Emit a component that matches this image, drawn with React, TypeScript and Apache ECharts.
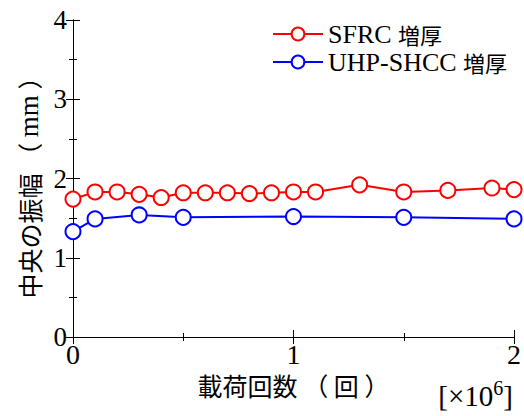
import React, { useEffect, useRef } from "react";
import * as echarts from "echarts";

const sfrcX = [0, 0.1, 0.2, 0.3, 0.4, 0.5, 0.6, 0.7, 0.8, 0.9, 1.0, 1.1, 1.3, 1.5, 1.7, 1.9, 2.0];
const sfrcY = [1.74, 1.83, 1.83, 1.8, 1.76, 1.82, 1.82, 1.82, 1.81, 1.82, 1.83, 1.83, 1.92, 1.83, 1.85, 1.88, 1.86];
const uhpX = [0, 0.1, 0.3, 0.5, 1.0, 1.5, 2.0];
const uhpY = [1.33, 1.49, 1.54, 1.51, 1.52, 1.51, 1.49];
const seriesNames = ["SFRC 増厚", "UHP-SHCC 増厚"];
const xTitle = "載荷回数 （ 回 ）";
const yTitle = "中央の振幅 （ {s|mm} ）";
const xUnit = "[×10{sup|6}]";

const SERIF = "Times New Roman, Liberation Serif, serif";
const CJK = "Noto Sans CJK JP";

export default function App() {
  const ref = useRef<HTMLDivElement>(null);
  useEffect(() => {
    if (!ref.current) return;
    const chart = echarts.init(ref.current, undefined, { renderer: "svg" });
    const axisCommon = {
      axisLine: { show: true, lineStyle: { color: "#000", width: 1 } },
      axisTick: { show: true, inside: true, length: 7, lineStyle: { color: "#000", width: 1 } },
      minorTick: { show: true, splitNumber: 2, length: 4, lineStyle: { color: "#000", width: 1 } },
      splitLine: { show: false },
    };
    const mk = (xs: number[], ys: number[]) => xs.map((x, i) => [x, ys[i]]);
    chart.setOption({
      animation: false,
      textStyle: { fontFamily: SERIF },
      grid: { left: 73, right: 10, top: 20, bottom: 79, containLabel: false, outerBoundsMode: "none" },
      legend: {
        left: 272,
        top: 21,
        padding: 0,
        orient: "vertical",
        itemWidth: 50,
        itemHeight: 16,
        itemGap: 2,
        data: seriesNames,
        formatter: (name: string) => {
          const parts = name.split(" ");
          return `{a|${parts[0]}} {b|${parts[1]}}`;
        },
        textStyle: {
          color: "#000",
          fontFamily: SERIF,
          fontSize: 26,
          lineHeight: 25,
          rich: {
            a: { fontFamily: SERIF, fontSize: 26, color: "#000", lineHeight: 25 },
            b: { fontFamily: CJK, fontSize: 22, color: "#000", lineHeight: 25 },
          },
        },
      },
      xAxis: [
        {
          type: "value",
          min: 0,
          max: 2,
          interval: 1,
          position: "bottom",
          ...axisCommon,
          axisLabel: { fontFamily: SERIF, fontSize: 28, color: "#000", margin: 3 },
          name: xTitle,
          nameLocation: "middle",
          nameGap: 30,
          nameTextStyle: { fontFamily: CJK, fontSize: 25, color: "#000" },
        },
        {
          type: "value",
          min: 0,
          max: 2,
          interval: 1,
          position: "top",
          ...axisCommon,
          axisLabel: { show: false },
        },
      ],
      yAxis: [
        {
          type: "value",
          min: 0,
          max: 4,
          interval: 1,
          position: "left",
          ...axisCommon,
          axisLabel: { fontFamily: SERIF, fontSize: 27, color: "#000", margin: 6 },
          name: yTitle,
          nameLocation: "middle",
          nameGap: 31,
          nameRotate: 90,
          nameTextStyle: {
            fontFamily: CJK,
            fontSize: 25,
            color: "#000",
            padding: [0, 6, 0, 0],
            rich: { s: { fontFamily: SERIF, fontSize: 27, color: "#000" } },
          },
        },
        {
          type: "value",
          min: 0,
          max: 4,
          interval: 1,
          position: "right",
          ...axisCommon,
          axisLabel: { show: false },
        },
      ],
      series: [
        {
          name: seriesNames[0],
          type: "line",
          data: mk(sfrcX, sfrcY),
          symbol: "circle",
          symbolSize: 15,
          lineStyle: { color: "#ff0000", width: 2 },
          itemStyle: { color: "#ffffff", borderColor: "#ff0000", borderWidth: 2 },
          z: 3,
        },
        {
          name: seriesNames[1],
          type: "line",
          data: mk(uhpX, uhpY),
          symbol: "circle",
          symbolSize: 15,
          lineStyle: { color: "#0000ff", width: 2 },
          itemStyle: { color: "#ffffff", borderColor: "#0000ff", borderWidth: 2 },
          z: 3,
        },
      ],
      graphic: [
        {
          type: "text",
          right: 11,
          top: 378,
          style: {
            text: xUnit,
            fontFamily: SERIF,
            fontSize: 29,
            fill: "#000",
            lineHeight: 36,
            rich: {
              sup: { fontFamily: SERIF, fontSize: 20, verticalAlign: "top", lineHeight: 20 },
            },
          },
        },
      ],
    });
    return () => chart.dispose();
  }, []);
  return (
    <div
      ref={ref}
      style={{ position: "fixed", left: 0, top: 0, width: 524, height: 416, background: "#fff" }}
    />
  );
}
